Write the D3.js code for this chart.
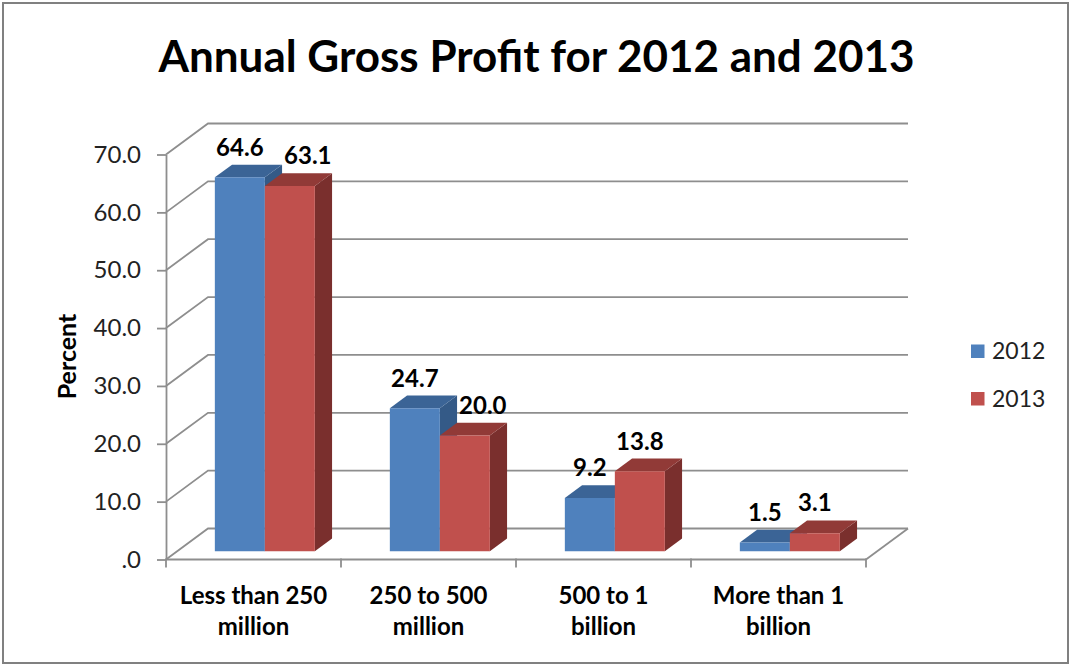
<!DOCTYPE html>
<html>
<head>
<meta charset="utf-8">
<script src="https://cdn.jsdelivr.net/npm/d3@7"></script>
<style>
  html, body { margin: 0; padding: 0; background: #fff; }
  svg { display: block; font-family: Lato, "Open Sans", sans-serif; }
</style>
</head>
<body>
<svg id="chart" width="1072" height="665"></svg>
<script>
// ---- data ----
const categories = ["Less than 250 million", "250 to 500 million", "500 to 1 billion", "More than 1 billion"];
const seriesNames = ["2012", "2013"];
const values2012 = [64.6, 24.7, 9.2, 1.5];
const values2013 = [63.1, 20.0, 13.8, 3.1];
const yTicks = [0, 10, 20, 30, 40, 50, 60, 70];
const yTickLabels = [".0", "10.0", "20.0", "30.0", "40.0", "50.0", "60.0", "70.0"];
const titleText = "Annual Gross Profit for 2012 and 2013";
const yAxisTitle = "Percent";

const seriesValues = [values2012, values2013];
const palette = {
  "2012": { front: "#4F81BD", top: "#3B6496", side: "#345A87" },
  "2013": { front: "#C0504D", top: "#913A37", side: "#7A2F2D" }
};

const svg = d3.select("#chart");
const gridColor = "#8E8E8E";

// ---- scales (front plane of the 3D box) ----
const x = d3.scaleBand().domain(categories).range([166, 866]);
const xs = d3.scaleBand().domain(seriesNames).range([0, x.bandwidth()]).paddingOuter(0.75);
const y = d3.scaleLinear().domain([0, 70]).range([559.5, 154.5]);

// depth of the box (oblique projection) and the slab the bars occupy
const DX = 42, DY = -31;
const Z0 = 0.27, Z1 = 0.68;
const P = (px, v, z) => [px + z * DX, y(v) + z * DY];
const poly = pts => "M" + pts.map(p => p.join(",")).join("L") + "Z";

// ---- outer frame ----
svg.append("rect")
  .attr("x", 3).attr("y", 3).attr("width", 1065).attr("height", 660)
  .attr("fill", "#fff").attr("stroke", "#808080").attr("stroke-width", 2);

// ---- title ----
svg.append("text")
  .attr("x", 536.5).attr("y", 72)
  .attr("text-anchor", "middle")
  .attr("font-weight", 700).attr("font-size", 44)
  .attr("fill", "#000")
  .text(titleText);

// ---- side wall + back wall gridlines ----
const [xL, xR] = x.range();
const grid = svg.append("g").attr("fill", "none").attr("stroke", gridColor).attr("stroke-width", 1.8);
yTicks.forEach(t => {
  const a = P(xL, t, 0), b = P(xL, t, 1), c = P(xR, t, 1);
  grid.append("path").attr("d", `M${a}L${b}L${c}`);
});
// right edge of the floor
grid.append("path").attr("d", `M${P(xR, 0, 1)}L${P(xR, 0, 0)}`);

// ---- value axis ----
const yAxis = d3.axisLeft(y)
  .tickValues(yTicks)
  .tickFormat((d, i) => yTickLabels[i])
  .tickSize(9).tickSizeOuter(0).tickPadding(16);
const gy = svg.append("g").attr("transform", `translate(${xL},0)`).call(yAxis);
gy.select(".domain").attr("stroke", gridColor).attr("stroke-width", 1.8);
gy.selectAll(".tick line").attr("stroke", gridColor).attr("stroke-width", 1.8);
gy.selectAll(".tick text")
  .attr("font-family", "Lato, 'Open Sans', sans-serif")
  .attr("font-size", 24).attr("fill", "#222");

// ---- category axis ----
const gx = svg.append("g").attr("stroke", gridColor).attr("stroke-width", 1.8);
gx.append("line").attr("x1", xL).attr("x2", xR).attr("y1", y(0)).attr("y2", y(0));
const bounds = [xL].concat(categories.map(c => x(c) + x.bandwidth()));
bounds.forEach(bx => {
  gx.append("line").attr("x1", bx).attr("x2", bx).attr("y1", y(0) - 1).attr("y2", y(0) + 8);
});

const catLabels = svg.append("g")
  .attr("font-weight", 700).attr("font-size", 24)
  .attr("text-anchor", "middle").attr("fill", "#000");
categories.forEach(c => {
  const cut = c.lastIndexOf(" ");
  const lines = [c.slice(0, cut), c.slice(cut + 1)];
  const t = catLabels.append("text").attr("x", x(c) + x.bandwidth() / 2).attr("y", 603.5);
  lines.forEach((ln, i) => {
    t.append("tspan").attr("x", x(c) + x.bandwidth() / 2).attr("y", 603.5 + i * 31.5).text(ln);
  });
});

// ---- 3D bars ----
const barsG = svg.append("g");
const labelsG = svg.append("g")
  .attr("font-weight", 700).attr("font-size", 24)
  .attr("text-anchor", "middle").attr("fill", "#000");

categories.forEach((c, ci) => {
  let prevBox = null;
  seriesNames.forEach((s, si) => {
    const v = seriesValues[si][ci];
    const x0 = x(c) + xs(s), x1 = x0 + xs.bandwidth();
    const col = palette[s];
    // side face
    barsG.append("path")
      .attr("d", poly([P(x1, 0, Z0), P(x1, v, Z0), P(x1, v, Z1), P(x1, 0, Z1)]))
      .attr("fill", col.side);
    // top face
    barsG.append("path")
      .attr("d", poly([P(x0, v, Z0), P(x1, v, Z0), P(x1, v, Z1), P(x0, v, Z1)]))
      .attr("fill", col.top);
    // front face
    barsG.append("path")
      .attr("d", poly([P(x0, 0, Z0), P(x1, 0, Z0), P(x1, v, Z0), P(x0, v, Z0)]))
      .attr("fill", col.front);

    // value label above the bar, nudged right when it would sit on the neighbour
    const cx = P((x0 + x1) / 2, v, Z0)[0];
    const base = P(x0, v, Z1)[1] - 9;
    const lbl = labelsG.append("text").attr("x", cx).attr("y", base).text(d3.format(".1f")(v));
    const w = lbl.node().getComputedTextLength();
    if (prevBox && cx - w / 2 < prevBox.right && base + 4 > prevBox.top) {
      lbl.attr("x", prevBox.right + 2 + w / 2);
    }
    prevBox = { right: P(x1, v, Z1)[0], top: P(x0, v, Z1)[1] };
  });
});

// ---- legend ----
const legend = svg.append("g").attr("font-size", 23).attr("fill", "#222");
seriesNames.forEach((s, i) => {
  legend.append("rect")
    .attr("x", 971).attr("y", 344.5 + i * 47.5)
    .attr("width", 13.5).attr("height", 13.5)
    .attr("fill", palette[s].front);
  legend.append("text")
    .attr("x", 992).attr("y", 359 + i * 47.5)
    .text(s);
});

// ---- value axis title ----
svg.append("text")
  .attr("transform", "translate(75.5,356.5) rotate(-90)")
  .attr("text-anchor", "middle")
  .attr("font-weight", 700).attr("font-size", 25)
  .attr("fill", "#000")
  .text(yAxisTitle);
</script>
</body>
</html>
